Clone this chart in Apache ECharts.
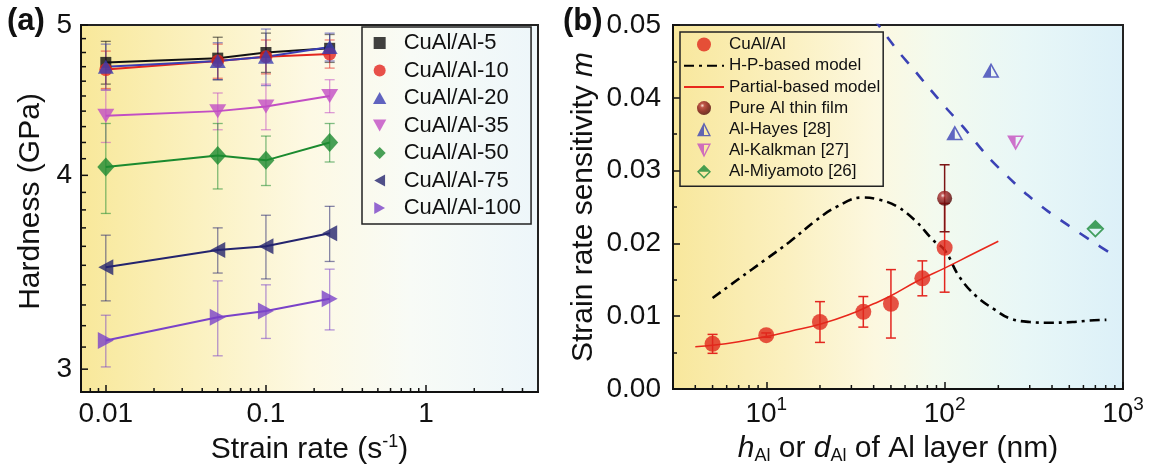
<!DOCTYPE html>
<html>
<head>
<meta charset="utf-8">
<script src="https://cdn.jsdelivr.net/npm/echarts@6/dist/echarts.min.js"></script>
<style>
  html, body { margin: 0; padding: 0; background: #fff; }
  #chart { width: 1150px; height: 471px; }
</style>
</head>
<body>
<div id="chart"></div>
<script>
const FONT = '"Liberation Sans", Arial, sans-serif'

// ---- (a) hardness vs strain rate ----
const strainRate = [0.01, 0.05, 0.1, 0.25]
const hard5 = [4.73, 4.76, 4.80, 4.83]
const err5 = [0.15, 0.15, 0.14, 0.10]
const hard10 = [4.68, 4.74, 4.77, 4.79]
const err10 = [0.13, 0.12, 0.12, 0.10]
const hard20 = [4.70, 4.74, 4.77, 4.84]
const err20 = [0.16, 0.13, 0.20, 0.10]
const hard35 = [4.37, 4.40, 4.43, 4.50]
const err35 = [0.17, 0.12, 0.15, 0.11]
const hard50 = [4.05, 4.12, 4.09, 4.20]
const err50 = [0.27, 0.20, 0.15, 0.12]
const hard75 = [3.49, 3.58, 3.60, 3.67]
const err75 = [0.17, 0.12, 0.17, 0.15]
const hard100 = [3.13, 3.24, 3.27, 3.33]
const err100 = [0.12, 0.18, 0.13, 0.15]
const hardMajor = [3, 4, 5]
const hardMinor = [3.1, 3.2, 3.3, 3.4, 3.5, 3.6, 3.7, 3.8, 3.9, 4.1, 4.2, 4.3, 4.4, 4.5, 4.6, 4.7, 4.8, 4.9]

// ---- (b) strain rate sensitivity vs layer thickness ----
const hAl = [5, 10, 20, 35, 50, 75, 100]
const mCuAl = [0.0062, 0.0074, 0.0092, 0.0106, 0.0117, 0.0152, 0.0194]
const errCuAl = [0.0013, 0.0003, 0.0028, 0.0021, 0.0047, 0.0024, 0.0061]
const hPure = [100]
const mPure = [0.0262]
const errPure = [0.0046]
const hHayes = [114, 182]
const mHayes = [0.0352, 0.0438]
const hKalkman = [250]
const mKalkman = [0.0338]
const hMiyamoto = [700]
const mMiyamoto = [0.0220]
const hpH = [5, 6.9, 9.8, 13.5, 19.1, 24.7, 34.1, 43.2, 54.7, 69.3, 85.7, 100, 121, 151, 191, 232, 300, 388, 522, 650, 807]
const hpM = [0.0125, 0.0150, 0.0177, 0.0202, 0.0232, 0.0250, 0.0263, 0.0260, 0.0250, 0.0230, 0.0205, 0.0191, 0.0154, 0.0127, 0.0109, 0.0097, 0.0092, 0.0091, 0.0092, 0.0094, 0.0095]
const pbH = [4, 5, 7, 10, 14, 20, 29, 40, 50, 70, 100, 140, 200]
const pbM = [0.0058, 0.0060, 0.0065, 0.0072, 0.0080, 0.0089, 0.0102, 0.0117, 0.0128, 0.0148, 0.0166, 0.0184, 0.0203]
const fitH = [40, 54, 66, 82, 102, 127, 175, 232, 293, 380, 492, 650, 910]
const fitM = [0.0509, 0.0466, 0.0441, 0.0413, 0.0386, 0.0360, 0.0319, 0.0289, 0.0266, 0.0244, 0.0225, 0.0205, 0.0182]

// log minor ticks
const mantissa = [2, 3, 4, 5, 6, 7, 8, 9]
const minorA = [0.008, 0.009].concat(...[0.01, 0.1, 1].map(d => mantissa.map(k => +(k * d).toPrecision(2)))).filter(v => v < 5)
const minorB = [4, 5, 6, 7, 8, 9].concat(...[10, 100].map(d => mantissa.map(k => k * d)))

// marker shapes
const SQUARE = 'path://M0,0 L10,0 L10,10 L0,10 Z'
const TRI_UP = 'path://M5,0 L10,9 L0,9 Z'
const TRI_DOWN = 'path://M0,0 L10,0 L5,9 Z'
const TRI_LEFT = 'path://M0,5 L9,0 L9,10 Z'
const TRI_RIGHT = 'path://M0,0 L9,5 L0,10 Z'
const DIAMOND = 'path://M5,0 L10,5 L5,10 L0,5 Z'
// half filled (outer shape with a hole in one half)
const HALF_TRI_UP = 'path://M0,20 L10,0 L20,20 Z M10,4.5 L10,18 L16.8,18 Z'
const HALF_TRI_DOWN = 'path://M0,0 L20,0 L10,20 Z M10,2 L10,15.5 L16.8,2 Z'
const HALF_DIAMOND = 'path://M10,0 L20,10 L10,20 L0,10 Z M2.8,10 L10,17.2 L17.2,10 Z'

const aSets = [
  { name: 'CuAl/Al-5', color: '#111111', symbol: SQUARE, size: [11, 11], y: hard5, err: err5 },
  { name: 'CuAl/Al-10', color: '#e3261f', symbol: 'circle', size: 13, y: hard10, err: err10 },
  { name: 'CuAl/Al-20', color: '#3a3db3', symbol: TRI_UP, size: [16, 14], y: hard20, err: err20 },
  { name: 'CuAl/Al-35', color: '#c24ec4', symbol: TRI_DOWN, size: [17, 14], y: hard35, err: err35 },
  { name: 'CuAl/Al-50', color: '#1b8a2f', symbol: DIAMOND, size: [17, 19], y: hard50, err: err50 },
  { name: 'CuAl/Al-75', color: '#24246e', symbol: TRI_LEFT, size: [15, 16], y: hard75, err: err75 },
  { name: 'CuAl/Al-100', color: '#7a42c8', symbol: TRI_RIGHT, size: [16, 17], y: hard100, err: err100 }
]

function errorBars (xs, ys, errs, color, gi, opacity, width, cap) {
  return {
    type: 'custom',
    xAxisIndex: gi,
    yAxisIndex: gi,
    silent: true,
    z: 3,
    data: xs.map((x, i) => [x, ys[i] - errs[i], ys[i] + errs[i]]),
    encode: { x: 0, y: [1, 2] },
    renderItem: (params, api) => {
      const lo = api.coord([api.value(0), api.value(1)])
      const hi = api.coord([api.value(0), api.value(2)])
      const style = { stroke: color, lineWidth: width, opacity }
      return {
        type: 'group',
        children: [
          { type: 'line', shape: { x1: lo[0], y1: lo[1], x2: hi[0], y2: hi[1] }, style },
          { type: 'line', shape: { x1: lo[0] - cap, y1: lo[1], x2: lo[0] + cap, y2: lo[1] }, style },
          { type: 'line', shape: { x1: hi[0] - cap, y1: hi[1], x2: hi[0] + cap, y2: hi[1] }, style }
        ]
      }
    }
  }
}

// log minor ticks drawn at the bottom of the grid, pointing inwards
function xMinorTicks (values, gi, yRef) {
  return {
    type: 'custom',
    xAxisIndex: gi,
    yAxisIndex: gi,
    silent: true,
    z: 5,
    data: values.map(v => [v, yRef]),
    renderItem: (params, api) => {
      const p = api.coord([api.value(0), yRef])
      const bottom = params.coordSys.y + params.coordSys.height
      return { type: 'line', shape: { x1: p[0], y1: bottom, x2: p[0], y2: bottom - 4 }, style: { stroke: '#111', lineWidth: 1.5 } }
    }
  }
}

// (a) y axis: log scale with ticks at 3, 4, 5 and 0.1 steps
function yTicksA (values, major) {
  return {
    type: 'custom',
    xAxisIndex: 0,
    yAxisIndex: 0,
    silent: true,
    z: 5,
    data: values.map(v => [0.01, v]),
    renderItem: (params, api) => {
      const p = api.coord([0.01, api.value(1)])
      const left = params.coordSys.x
      const len = major ? 7 : 5
      const children = [{ type: 'line', shape: { x1: left, y1: p[1], x2: left + len, y2: p[1] }, style: { stroke: '#111', lineWidth: 1.5 } }]
      if (major) {
        children.push({
          type: 'text', x: left - 9, y: p[1],
          style: { text: String(api.value(1)), font: '28px ' + FONT, fill: '#111', align: 'right', verticalAlign: 'middle' }
        })
      }
      return { type: 'group', children }
    }
  }
}

const series = []
aSets.forEach(s => {
  series.push({
    type: 'line', name: s.name + ' fit', xAxisIndex: 0, yAxisIndex: 0, silent: true, z: 2,
    data: strainRate.map((x, i) => [x, s.y[i]]), symbol: 'none',
    lineStyle: { color: s.color, width: 2 }
  })
  series.push(errorBars(strainRate, s.y, s.err, s.color, 0, 0.55, 1.3, 5))
  series.push({
    type: 'scatter', name: s.name, xAxisIndex: 0, yAxisIndex: 0, z: 4,
    data: strainRate.map((x, i) => [x, s.y[i]]),
    symbol: s.symbol, symbolSize: s.size, itemStyle: { color: s.color }
  })
})
series.push(xMinorTicks(minorA, 0, 3))
series.push(yTicksA(hardMajor, true))
series.push(yTicksA(hardMinor, false))

const sphere = {
  type: 'radial', x: 0.38, y: 0.32, r: 0.7,
  colorStops: [
    { offset: 0, color: '#fbe4e4' },
    { offset: 0.22, color: '#b03030' },
    { offset: 0.6, color: '#7c1111' },
    { offset: 1, color: '#4a0606' }
  ]
}

series.push(
  {
    type: 'line', name: 'fit line', xAxisIndex: 1, yAxisIndex: 1, silent: true, z: 2,
    data: fitH.map((h, i) => [h, fitM[i]]), symbol: 'none', smooth: 0.3,
    lineStyle: { color: '#3b42b5', width: 2.6, type: [11, 12] }
  },
  {
    type: 'line', name: 'H-P-based model', xAxisIndex: 1, yAxisIndex: 1, z: 2,
    data: hpH.map((h, i) => [h, hpM[i]]), symbol: 'none', smooth: 0.4,
    lineStyle: { color: '#000', width: 2.6, type: [10, 5, 3, 5] },
    itemStyle: { color: '#000', opacity: 0 }
  },
  {
    type: 'line', name: 'Partial-based model', xAxisIndex: 1, yAxisIndex: 1, z: 2,
    data: pbH.map((h, i) => [h, pbM[i]]), symbol: 'none', smooth: 0.4,
    lineStyle: { color: '#e8281c', width: 1.6 },
    itemStyle: { color: '#e8281c', opacity: 0 }
  },
  errorBars(hAl, mCuAl, errCuAl, '#e3261f', 1, 1, 1.5, 5),
  {
    type: 'scatter', name: 'CuAl/Al', xAxisIndex: 1, yAxisIndex: 1, z: 4,
    data: hAl.map((h, i) => [h, mCuAl[i]]), symbol: 'circle', symbolSize: 16,
    itemStyle: { color: '#e0281c' }
  },
  errorBars(hPure, mPure, errPure, '#7c1414', 1, 1, 1.5, 5),
  {
    type: 'scatter', name: 'Pure Al thin film', xAxisIndex: 1, yAxisIndex: 1, z: 4,
    data: hPure.map((h, i) => [h, mPure[i]]), symbol: 'circle', symbolSize: 15,
    itemStyle: { color: sphere }
  },
  {
    type: 'scatter', name: 'Al-Hayes [28]', xAxisIndex: 1, yAxisIndex: 1, z: 4,
    data: hHayes.map((h, i) => [h, mHayes[i]]), symbol: HALF_TRI_UP, symbolSize: [17, 15],
    itemStyle: { color: '#3b42b5' }
  },
  {
    type: 'scatter', name: 'Al-Kalkman [27]', xAxisIndex: 1, yAxisIndex: 1, z: 4,
    data: hKalkman.map((h, i) => [h, mKalkman[i]]), symbol: HALF_TRI_DOWN, symbolSize: [17, 15],
    itemStyle: { color: '#c64fc0' }
  },
  {
    type: 'scatter', name: 'Al-Miyamoto [26]', xAxisIndex: 1, yAxisIndex: 1, z: 4,
    data: hMiyamoto.map((h, i) => [h, mMiyamoto[i]]), symbol: HALF_DIAMOND, symbolSize: [18, 18],
    itemStyle: { color: '#1a8a38' }
  },
  xMinorTicks(minorB, 1, 0)
)

const axisLine = { lineStyle: { color: '#111', width: 2 } }
const tickStyle = { inside: true, length: 7, lineStyle: { color: '#111', width: 1.5 } }
const labelBase = { fontSize: 28, color: '#111', fontFamily: FONT }
const nameBase = { fontSize: 30, color: '#111', fontFamily: FONT }

const option = {
  animation: false,
  textStyle: { fontFamily: FONT },
  title: [
    { text: '(a)', left: 2, top: 1, textStyle: { fontSize: 31, fontWeight: 'bold', color: '#111', fontFamily: FONT } },
    { text: '(b)', left: 558, top: 1, textStyle: { fontSize: 31, fontWeight: 'bold', color: '#111', fontFamily: FONT } }
  ],
  grid: [
    {
      left: 81, top: 25, right: 612, bottom: 79, show: true, borderColor: '#222', borderWidth: 2,
      backgroundColor: {
        type: 'linear', x: 0, y: 0, x2: 1, y2: 0,
        colorStops: [
          { offset: 0, color: '#f8e89a' },
          { offset: 0.25, color: '#fbf1bf' },
          { offset: 0.5, color: '#fdf9e4' },
          { offset: 0.72, color: '#f8fbf6' },
          { offset: 1, color: '#edf6fa' }
        ]
      }
    },
    {
      left: 673, top: 25, right: 27, bottom: 82, show: true, borderColor: '#222', borderWidth: 2,
      backgroundColor: {
        type: 'linear', x: 0, y: 0, x2: 1, y2: 0,
        colorStops: [
          { offset: 0, color: '#f8e79c' },
          { offset: 0.25, color: '#fbf0bf' },
          { offset: 0.45, color: '#fcf8e0' },
          { offset: 0.58, color: '#f3faee' },
          { offset: 0.78, color: '#e8f7f7' },
          { offset: 1, color: '#dcf0f8' }
        ]
      }
    }
  ],
  legend: [
    {
      data: aSets.map(s => s.name),
      orient: 'vertical', left: 362, top: 27, selectedMode: false,
      itemWidth: 38, itemHeight: 12, itemGap: 5.5,
      padding: [5, 10, 5, 11],
      borderColor: '#222', borderWidth: 1.5,
      textStyle: { fontSize: 22, color: '#111', fontFamily: FONT, lineHeight: 22 }
    },
    {
      data: [
        'CuAl/Al',
        { name: 'H-P-based model', itemStyle: { opacity: 0 } },
        { name: 'Partial-based model', itemStyle: { opacity: 0 } },
        'Pure Al thin film', 'Al-Hayes [28]', 'Al-Kalkman [27]', 'Al-Miyamoto [26]'
      ],
      orient: 'vertical', left: 680, top: 32, selectedMode: false,
      itemWidth: 40, itemHeight: 14, itemGap: 4.2,
      padding: [4, 3, 6, 3],
      borderColor: '#222', borderWidth: 1.5,
      textStyle: { fontSize: 17, color: '#111', fontFamily: FONT, lineHeight: 17 }
    }
  ],
  xAxis: [
    {
      type: 'log', gridIndex: 0, min: 0.007, max: 5,
      axisLine, axisTick: tickStyle, splitLine: { show: false },
      axisLabel: {
        ...labelBase, margin: 8, showMinLabel: false, showMaxLabel: false,
        formatter: v => String(+v.toPrecision(3))
      },
      name: '{n|Strain rate (s}{sup|-1}{n|)}', nameLocation: 'middle', nameGap: 38,
      nameTextStyle: {
        ...nameBase,
        rich: {
          n: { ...nameBase },
          sup: { fontSize: 18, color: '#111', fontFamily: FONT, padding: [0, 0, 16, 0] }
        }
      }
    },
    {
      type: 'log', gridIndex: 1, min: 3, max: 1000,
      axisLine, axisTick: tickStyle, splitLine: { show: false },
      axisLabel: {
        ...labelBase, margin: 6, showMinLabel: false, showMaxLabel: true,
        formatter: v => '{b|10}{s|' + Math.round(Math.log10(v)) + '}',
        rich: {
          b: { ...labelBase },
          s: { fontSize: 19, color: '#111', fontFamily: FONT, padding: [0, 0, 20, 0] }
        }
      },
      name: '{i|h}{s|Al}{n| or }{i|d}{s|Al}{n| of Al layer (nm)}', nameLocation: 'middle', nameGap: 37,
      nameTextStyle: {
        ...nameBase,
        rich: {
          n: { ...nameBase },
          i: { ...nameBase, fontStyle: 'italic' },
          s: { fontSize: 18, color: '#111', fontFamily: FONT, padding: [16, 0, 0, 0] }
        }
      }
    }
  ],
  yAxis: [
    {
      type: 'log', gridIndex: 0, min: 2.9, max: 5,
      axisLine, axisTick: { show: false }, axisLabel: { show: false }, splitLine: { show: false },
      name: 'Hardness (GPa)', nameLocation: 'middle', nameGap: 35,
      nameTextStyle: { ...nameBase, padding: [0, 0, 0, 14] }
    },
    {
      type: 'value', gridIndex: 1, min: 0, max: 0.05, interval: 0.01,
      axisLine, axisTick: tickStyle, splitLine: { show: false },
      minorTick: { show: true, splitNumber: 2, length: 4, lineStyle: { color: '#111', width: 1.5 } },
      axisLabel: { ...labelBase, margin: 12, formatter: v => v.toFixed(2) },
      name: '{n|Strain rate sensitivity }{i|m}', nameLocation: 'middle', nameGap: 74,
      nameTextStyle: {
        ...nameBase,
        rich: {
          n: { ...nameBase },
          i: { ...nameBase, fontStyle: 'italic' }
        }
      }
    }
  ],
  series
}

const chart = echarts.init(document.getElementById('chart'))
chart.setOption(option)
window.addEventListener('resize', () => chart.resize())
</script>
</body>
</html>
